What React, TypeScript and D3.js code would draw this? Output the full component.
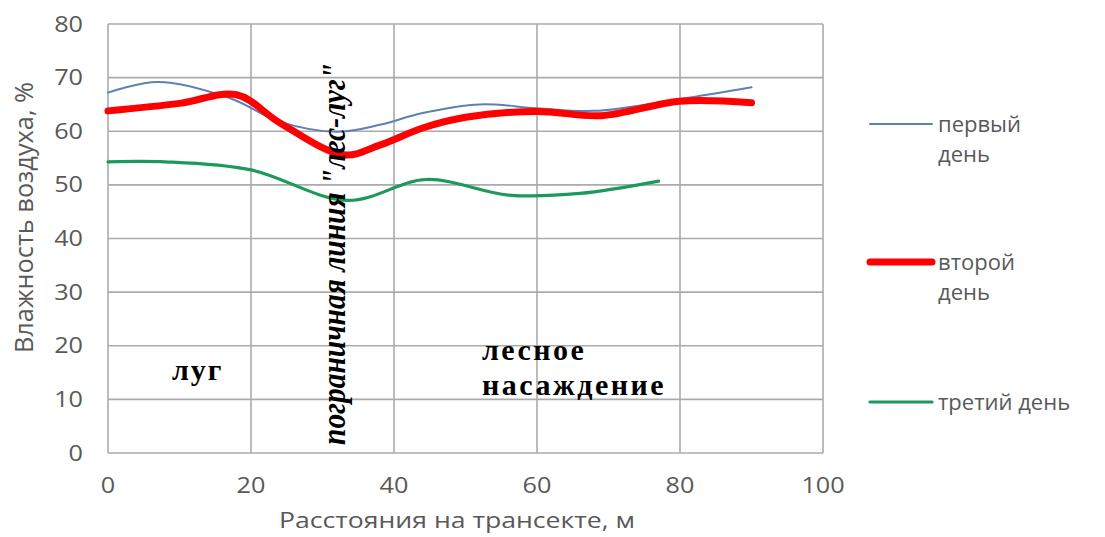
import React from "react";
import * as d3 from "d3";

const W = 1105;
const H = 537;

const xTicks = [0, 20, 40, 60, 80, 100];
const yTicks = [0, 10, 20, 30, 40, 50, 60, 70, 80];

const dayNames = ["первый день", "второй день", "третий день"];
const legendLines = [["первый", "день"], ["второй", "день"], ["третий день"]];

const day1X = [0, 7, 17, 24, 32, 38, 44, 52, 60, 68, 80, 90];
const day1Y = [67.2, 69.2, 66.2, 61.8, 59.9, 61.2, 63.4, 65.0, 64.3, 63.8, 66.0, 68.2];

const day2X = [0, 10, 18, 24, 33, 38, 44, 50, 60, 69, 80, 90];
const day2Y = [63.8, 65.2, 66.8, 61.6, 55.6, 57.4, 60.6, 62.6, 63.7, 62.9, 65.6, 65.3];

const day3X = [0, 8, 20, 33.5, 44.5, 56, 66, 77];
const day3Y = [54.3, 54.3, 52.8, 47.1, 51.0, 48.1, 48.4, 50.7];

const xTitle = "Расстояния на трансекте, м";
const yTitle = "Влажность воздуха, %";
const zoneMeadow = "луг";
const zoneForest = ["лесное", "насаждение"];
const borderLabel = "пограничная линия \"лес-луг\"";

const seriesX = [day1X, day2X, day3X];
const seriesY = [day1Y, day2Y, day3Y];
const colors = ["#5f80b4", "#ff0000", "#1b9a5c"];
const widths = [2, 7, 3.2];

export default function App() {
  const x = d3.scaleLinear().domain([0, 100]).range([108, 823]);
  const y = d3.scaleLinear().domain([0, 80]).range([453, 24]);

  const line = d3
    .line<[number, number]>()
    .x((d) => x(d[0]))
    .y((d) => y(d[1]))
    .curve(d3.curveCatmullRom.alpha(0.5));

  const sans = "'Open Sans', sans-serif";
  const serif = "'Liberation Serif', 'Times New Roman', serif";
  const gray = "#595959";
  const grid = "#ababab";

  const legendY = [124, 262, 402];

  return (
    <svg
      width={W}
      height={H}
      style={{ position: "absolute", left: 0, top: 0, background: "#fff" }}
    >
      {/* grid */}
      {yTicks.map((t) => (
        <line key={"gy" + t} x1={x(0)} x2={x(100)} y1={y(t)} y2={y(t)} stroke={grid} strokeWidth={1.6} />
      ))}
      {xTicks.map((t) => (
        <line key={"gx" + t} x1={x(t)} x2={x(t)} y1={y(0)} y2={y(80)} stroke={grid} strokeWidth={1.6} />
      ))}

      {/* y tick labels */}
      {yTicks.map((t) => (
        <g key={"yl" + t} transform={`translate(83,${y(t) + 7.5}) scale(1.2,1)`}>
          <text textAnchor="end" fontFamily={sans} fontSize={21} fill={gray}>
            {t}
          </text>
        </g>
      ))}
      {/* x tick labels */}
      {xTicks.map((t) => (
        <g key={"xl" + t} transform={`translate(${x(t)},${493}) scale(1.2,1)`}>
          <text textAnchor="middle" fontFamily={sans} fontSize={21} fill={gray}>
            {t}
          </text>
        </g>
      ))}

      {/* axis titles */}
      <text
        x={279}
        y={528}
        fontFamily={sans}
        fontSize={21}
        fill={gray}
        textLength={356}
        lengthAdjust="spacingAndGlyphs"
      >
        {xTitle}
      </text>
      <g transform="translate(33,353) scale(1.25,1) rotate(-90)">
        <text
          x={0}
          y={0}
          fontFamily={sans}
          fontSize={21}
          fill={gray}
          textLength={271}
          lengthAdjust="spacingAndGlyphs"
        >
          {yTitle}
        </text>
      </g>

      {/* series */}
      {seriesX.map((xs, i) => {
        const pts = xs.map((v, j) => [v, seriesY[i][j]] as [number, number]);
        return (
          <path
            key={"s" + i}
            d={line(pts) || ""}
            fill="none"
            stroke={colors[i]}
            strokeWidth={widths[i]}
            strokeLinecap="round"
            strokeLinejoin="round"
          />
        );
      })}

      {/* annotations */}
      <text x={172} y={380} fontFamily={serif} fontWeight="bold" fontSize={30} letterSpacing={2} fill="#000">
        {zoneMeadow}
      </text>
      <text x={482} y={360} fontFamily={serif} fontWeight="bold" fontSize={30} letterSpacing={2.5} fill="#000">
        {zoneForest[0]}
      </text>
      <text x={482} y={395} fontFamily={serif} fontWeight="bold" fontSize={30} letterSpacing={2.5} fill="#000">
        {zoneForest[1]}
      </text>
      <g transform="translate(345,445) scale(1.15,1) rotate(-90)">
        <text
          x={0}
          y={0}
          fontFamily={serif}
          fontWeight="bold"
          fontStyle="italic"
          fontSize={29}
          fill="#000"
          textLength={382}
          lengthAdjust="spacingAndGlyphs"
        >
          {borderLabel}
        </text>
      </g>

      {/* legend */}
      {dayNames.map((name, i) => (
        <g key={"lg" + i} aria-label={name}>
          <line
            x1={870}
            x2={932}
            y1={legendY[i]}
            y2={legendY[i]}
            stroke={colors[i]}
            strokeWidth={widths[i]}
            strokeLinecap="round"
          />
          {legendLines[i].map((ln, k) => (
            <text
              key={k}
              x={938}
              y={legendY[i] + 8 + k * 30}
              fontFamily={sans}
              fontSize={22}
              fill={gray}
            >
              {ln}
            </text>
          ))}
        </g>
      ))}
    </svg>
  );
}
